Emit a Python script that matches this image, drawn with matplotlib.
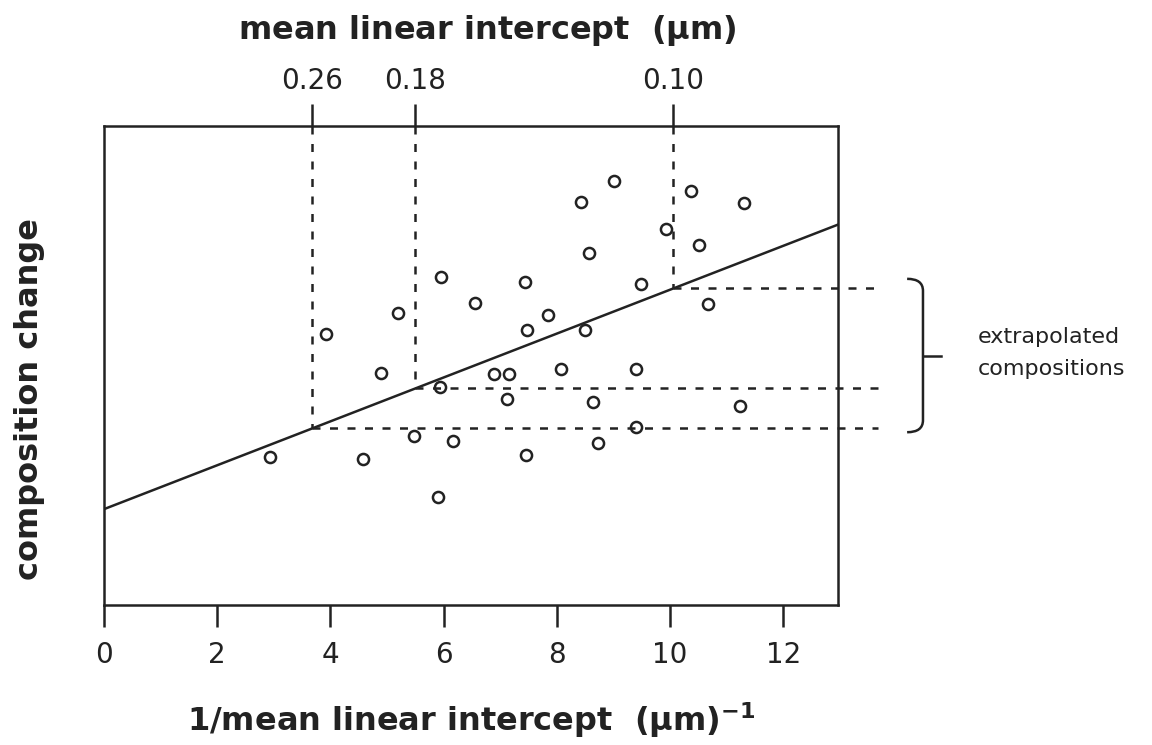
import numpy as np
import matplotlib.pyplot as plt
from matplotlib.path import Path
from matplotlib.patches import PathPatch

# measured grain data: inverse mean linear intercept vs composition change
inv_intercept = [2.93, 3.92, 5.19, 5.96, 6.56, 4.89, 5.93, 6.89, 4.58, 5.48,
                 6.17, 5.90, 9.01, 8.42, 10.38, 11.30, 9.93, 10.52, 8.57, 7.43,
                 9.48, 10.68, 7.84, 7.48, 8.49, 7.16, 8.08, 9.40, 7.12, 8.64,
                 11.23, 9.40, 8.72, 7.46]
comp_change = [3.08, 5.65, 6.09, 6.84, 6.31, 4.85, 4.55, 4.82, 3.04, 3.53,
               3.42, 2.25, 8.85, 8.41, 8.64, 8.39, 7.84, 7.52, 7.34, 6.74,
               6.71, 6.29, 6.05, 5.73, 5.74, 4.82, 4.93, 4.93, 4.29, 4.24,
               4.15, 3.72, 3.38, 3.14]

# fitted trend line
fit_intercept = 2.0
fit_slope = 0.458

# grain sizes used for extrapolation (um) and their positions on the 1/L axis
target_sizes = ["0.26", "0.18", "0.10"]
target_inv = [3.68, 5.50, 10.06]

x_ticks = [0, 2, 4, 6, 8, 10, 12]

plt.rcParams['font.family'] = 'DejaVu Sans'
INK = '#222222'

fig = plt.figure(figsize=(11.52, 7.45), dpi=100)
ax = fig.add_axes([0.0903, 0.188, 0.6372, 0.643])
xmin, xmax = 0, 12.97
ymin, ymax = 0, 10
ax.set_xlim(xmin, xmax)
ax.set_ylim(ymin, ymax)

for s in ax.spines.values():
    s.set_linewidth(1.8)
    s.set_color(INK)

# scatter of measurements
ax.plot(inv_intercept, comp_change, 'o', ls='none', mfc='none', mec=INK,
        ms=8, mew=1.8, zorder=3)

# regression line
xl = np.array([xmin, xmax])
ax.plot(xl, fit_intercept + fit_slope * xl, color=INK, lw=1.8, zorder=2)

# dashed construction lines from the top axis down to the fit, then out to the right
x_end = 13.68
dash = (0, (3.2, 3.8))
levels = []
for xv in target_inv:
    yv = fit_intercept + fit_slope * xv
    levels.append(yv)
    ax.plot([xv, xv], [ymax, yv], color=INK, lw=1.8, ls=dash, clip_on=False)
    ax.plot([xv, x_end], [yv, yv], color=INK, lw=1.8, ls=dash, clip_on=False)

# bracket grouping the extrapolated compositions
top = max(levels) + 0.2
bot = min(levels) - 0.08
bx, hx = 14.47, 14.19
verts = [(hx, top), (bx, top), (bx, top - 0.25), (bx, bot + 0.25),
         (bx, bot), (hx, bot)]
codes = [Path.MOVETO, Path.CURVE3, Path.CURVE3, Path.LINETO,
         Path.CURVE3, Path.CURVE3]
ax.add_patch(PathPatch(Path(verts, codes), fill=False, lw=1.8,
                       ec=INK, clip_on=False))
mid = (top + bot) / 2
ax.plot([bx, 14.78], [mid, mid], color=INK, lw=1.8, clip_on=False)
ax.text(15.43, mid + 0.05, "extrapolated\ncompositions", fontsize=16,
        ha='left', va='center', linespacing=1.75, color=INK)

# bottom axis
ax.set_xticks(x_ticks)
ax.set_xticklabels([str(t) for t in x_ticks], fontsize=20, color=INK)
ax.tick_params(axis='x', direction='out', length=16, width=1.8, pad=10,
               color=INK)
ax.set_yticks([])
ax.set_xlabel(r"1/mean linear intercept  ($\mathbf{\mu}$m)$^{\mathbf{-1}}$",
              fontsize=23, fontweight='bold', color=INK)
ax.xaxis.set_label_coords(0.5, -0.2)
ax.set_ylabel("composition change", fontsize=23, fontweight='bold', color=INK)
ax.yaxis.set_label_coords(-0.081, 0.43)

# top axis in mean linear intercept
sec = ax.secondary_xaxis('top')
sec.set_xticks(target_inv)
sec.set_xticklabels(target_sizes, fontsize=20, color=INK)
sec.tick_params(direction='out', length=16, width=1.8, pad=6, color=INK)
sec.spines['top'].set_visible(False)
ax.text(0.522, 1.2, r"mean linear intercept  ($\mathbf{\mu}$m)", fontsize=23,
        fontweight='bold', color=INK, ha='center', va='center',
        transform=ax.transAxes)

fig.savefig("out.png", dpi=100)
